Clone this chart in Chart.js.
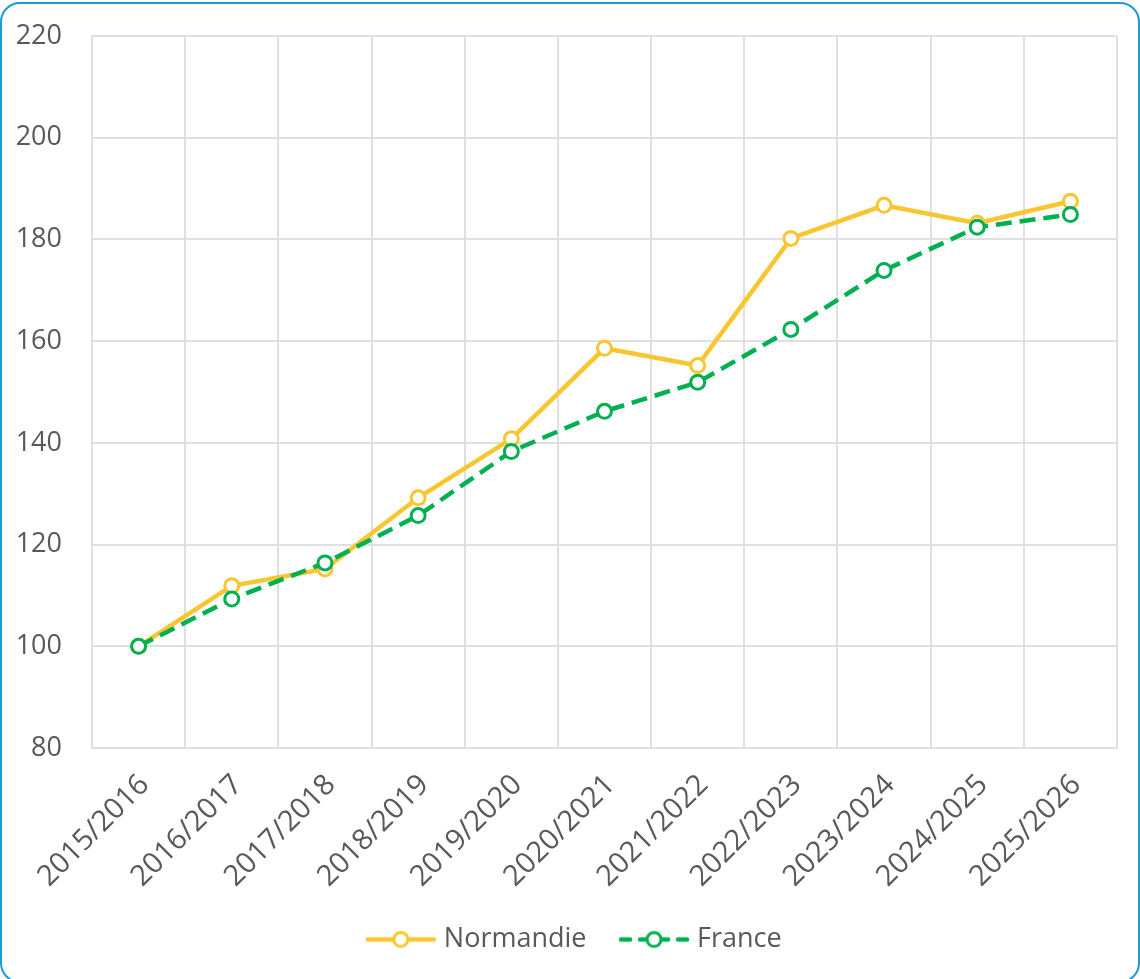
<!DOCTYPE html>
<html>
<head>
<meta charset="utf-8">
<script src="https://cdn.jsdelivr.net/npm/chart.js@4/dist/chart.umd.min.js"></script>
<style>
  body { margin: 0; background: #fff; }
  .wrap { position: relative; width: 1140px; height: 979px; overflow: hidden; }
  .frame {
    position: absolute; left: 0; top: 2px; width: 1140px; height: 981px;
    box-sizing: border-box; border: 2px solid #1c9ad6; border-radius: 20px;
    pointer-events: none;
  }
  canvas { position: absolute; left: 0; top: 0; }
</style>
</head>
<body>
<div class="wrap">
  <canvas id="evolution" width="1140" height="979"></canvas>
  <div class="frame"></div>
</div>
<script>
// Index 100 = 2015/2016
const seasons = [
  "2015/2016", "2016/2017", "2017/2018", "2018/2019", "2019/2020", "2020/2021",
  "2021/2022", "2022/2023", "2023/2024", "2024/2025", "2025/2026",
];
const normandie = [100, 111.9, 115.2, 129.2, 140.8, 158.6, 155.2, 180.2, 186.7, 183.2, 187.5];
const france = [100, 109.3, 116.4, 125.7, 138.3, 146.2, 151.9, 162.3, 173.9, 182.4, 184.9];
const yTicks = [80, 100, 120, 140, 160, 180, 200, 220];

const yellow = "#f8c630";
const green = "#00b050";
const textColor = "#595959";
const gridColor = "#e0e0e0";
const fontFamily = "'Open Sans', sans-serif";

// legend swatch: line with a hollow marker in the middle
function swatch(color, dash) {
  const c = document.createElement("canvas");
  c.width = 72;
  c.height = 20;
  const ctx = c.getContext("2d");
  ctx.strokeStyle = color;
  ctx.lineWidth = 4.5;
  ctx.lineCap = "round";
  ctx.setLineDash(dash);
  ctx.beginPath();
  ctx.moveTo(3, 10);
  ctx.lineTo(69, 10);
  ctx.stroke();
  ctx.setLineDash([]);
  ctx.fillStyle = "#fff";
  ctx.lineWidth = 3;
  ctx.beginPath();
  ctx.arc(36, 10, 7, 0, Math.PI * 2);
  ctx.fill();
  ctx.stroke();
  return c;
}
const swatches = [swatch(yellow, []), swatch(green, [9, 10])];

// nudge the legend a bit to the right
const legendShift = {
  id: "legendShift",
  afterLayout(chart) {
    chart.legend.left += 18;
    chart.legend.right += 18;
  },
};

const ctx = document.getElementById("evolution").getContext("2d");
const chart = new Chart(ctx, {
  type: "line",
  data: {
    labels: seasons,
    datasets: [
      {
        label: "Normandie",
        data: normandie,
        borderColor: yellow,
        borderWidth: 4.5,
        pointRadius: 7,
        pointBorderWidth: 3,
        pointBackgroundColor: "#fff",
        pointBorderColor: yellow,
        tension: 0,
        order: 1,
      },
      {
        label: "France",
        data: france,
        borderColor: green,
        borderWidth: 4.5,
        borderDash: [16, 8],
        pointRadius: 7,
        pointBorderWidth: 3,
        pointBackgroundColor: "#fff",
        pointBorderColor: green,
        tension: 0,
        order: 0,
      },
    ],
  },
  options: {
    responsive: false,
    devicePixelRatio: 1,
    animation: false,
    layout: {
      padding: { left: 0, right: 23, top: 36, bottom: 16 },
    },
    scales: {
      x: {
        offset: true,
        grid: { offset: true, color: gridColor, lineWidth: 2, drawTicks: false },
        border: { color: gridColor, width: 2 },
        ticks: {
          color: textColor,
          font: { family: fontFamily, size: 29 },
          minRotation: 45,
          maxRotation: 45,
          padding: 20,
          labelOffset: 6,
        },
        afterFit: (s) => { s.height = 140; },
      },
      y: {
        min: 80,
        max: 220,
        afterBuildTicks: (s) => { s.ticks = yTicks.map((v) => ({ value: v })); },
        grid: { color: gridColor, lineWidth: 2, drawTicks: false },
        border: { color: gridColor, width: 2 },
        ticks: {
          color: textColor,
          font: { family: fontFamily, size: 27 },
          padding: 30,
        },
        afterFit: (s) => {
          s.width = 92;
          s.paddingTop = 0;
          s.paddingBottom = 0;
        },
      },
    },
    plugins: {
      tooltip: { enabled: false },
      legend: {
        position: "bottom",
        labels: {
          color: textColor,
          font: { family: fontFamily, size: 27 },
          usePointStyle: true,
          pointStyleWidth: 59,
          padding: 38,
          sort: (a, b) => a.datasetIndex - b.datasetIndex,
          generateLabels: (chart) => {
            const items = Chart.defaults.plugins.legend.labels.generateLabels(chart);
            items.forEach((it) => { it.pointStyle = swatches[it.datasetIndex]; });
            return items;
          },
        },
      },
    },
  },
  plugins: [legendShift],
});
</script>
</body>
</html>
